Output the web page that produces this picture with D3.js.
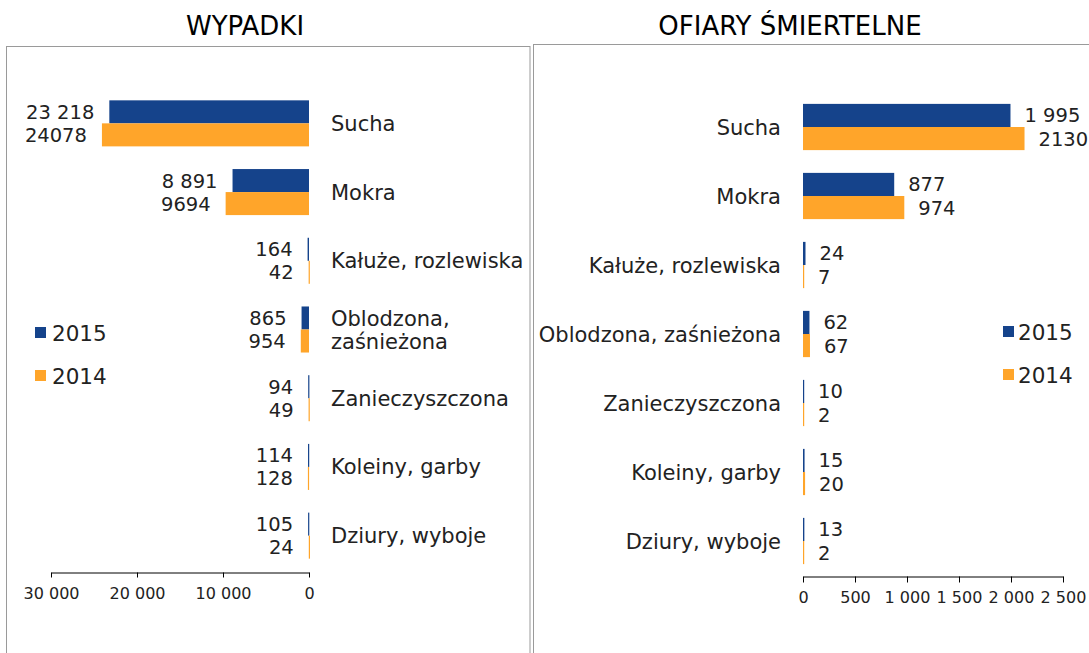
<!DOCTYPE html>
<html>
<head>
<meta charset="utf-8">
<script src="https://cdn.jsdelivr.net/npm/d3@7"></script>
<style>
  html, body { margin: 0; padding: 0; background: #fff; }
  svg { display: block; font-family: "DejaVu Sans", Verdana, sans-serif; }
</style>
</head>
<body>
<svg id="chart" width="1089" height="653"></svg>
<script>
// ---- DATA ----
const categoriesLeft = ["Sucha", "Mokra", "Kałuże, rozlewiska", "Oblodzona, zaśnieżona", "Zanieczyszczona", "Koleiny, garby", "Dziury, wyboje"];
const categoriesRight = ["Sucha", "Mokra", "Kałuże, rozlewiska", "Oblodzona, zaśnieżona", "Zanieczyszczona", "Koleiny, garby", "Dziury, wyboje"];
const seriesNames = ["2015", "2014"];
const accidents2015 = [23218, 8891, 164, 865, 94, 114, 105];
const accidents2014 = [24078, 9694, 42, 954, 49, 128, 24];
const deaths2015 = [1995, 877, 24, 62, 10, 15, 13];
const deaths2014 = [2130, 974, 7, 67, 2, 20, 2];
const leftTicks = [0, 10000, 20000, 30000];
const rightTicks = [0, 500, 1000, 1500, 2000, 2500];
const titles = ["WYPADKI", "OFIARY ŚMIERTELNE"];
const colors = ["#15438B", "#FFA52A"];

// formatting: 2015 labels with space thousands separator, 2014 without
const fmtSpace = v => d3.format(",")(v).replace(/,/g, "\u00A0");
const fmtPlain = v => String(v);
const labelFmt = [fmtSpace, fmtPlain];

const svg = d3.select("#chart");

// panel frames
svg.append("rect").attr("x", 6.5).attr("y", 46.5).attr("width", 523.5).attr("height", 700)
  .attr("fill", "none").attr("stroke", "#9a9a9a").attr("stroke-width", 1);
svg.append("rect").attr("x", 533.5).attr("y", 44.5).attr("width", 700).attr("height", 700)
  .attr("fill", "none").attr("stroke", "#9a9a9a").attr("stroke-width", 1);

// titles
svg.append("text").attr("x", 245).attr("y", 35).attr("text-anchor", "middle")
  .attr("font-size", 26).attr("fill", "#000").text(titles[0]);
svg.append("text").attr("x", 790).attr("y", 35).attr("text-anchor", "middle")
  .attr("font-size", 26).attr("fill", "#000").text(titles[1]);

function seriesRows(cats, a, b) {
  return cats.map((c, i) => ({ cat: c, vals: [a[i], b[i]] }));
}

// ---------- LEFT CHART ----------
const xL = d3.scaleLinear().domain([0, 30000]).range([309, 51]);
const yL = d3.scaleBand().domain(categoriesLeft).range([89, 570]).paddingInner(0.33).paddingOuter(0.165);
const ySubL = d3.scaleBand().domain(seriesNames).range([0, yL.bandwidth()]);
const rowsL = seriesRows(categoriesLeft, accidents2015, accidents2014);

const gL = svg.append("g");
rowsL.forEach(r => {
  const g = gL.append("g").attr("transform", `translate(0,${yL(r.cat)})`);
  seriesNames.forEach((s, k) => {
    const v = r.vals[k];
    g.append("rect")
      .attr("x", xL(v)).attr("y", ySubL(s))
      .attr("width", Math.max(xL(0) - xL(v), 1.2)).attr("height", ySubL.bandwidth())
      .attr("fill", colors[k]);
    g.append("text")
      .attr("x", xL(v) - 15).attr("y", ySubL(s) + ySubL.bandwidth() / 2)
      .attr("dy", "0.36em").attr("text-anchor", "end")
      .attr("font-size", 19.5).attr("fill", "#222").text(labelFmt[k](v));
  });
  // category label
  const cy = yL(r.cat) + yL.bandwidth() / 2;
  const lines = r.cat === "Oblodzona, zaśnieżona" ? ["Oblodzona,", "zaśnieżona"] : [r.cat];
  lines.forEach((ln, j) => {
    gL.append("text").attr("x", 331)
      .attr("y", cy + (j - (lines.length - 1) / 2) * 23)
      .attr("dy", "0.36em").attr("font-size", 21).attr("fill", "#222").text(ln);
  });
});

const axL = svg.append("g").attr("transform", "translate(0,572.5)")
  .call(d3.axisBottom(xL).tickValues(leftTicks).tickSize(5).tickPadding(10).tickSizeOuter(0)
    .tickFormat(v => fmtSpace(v)));
axL.select(".domain").attr("stroke", "#000");
axL.selectAll(".tick line").attr("stroke", "#000");
axL.selectAll("text").attr("font-size", 16).attr("font-family", "DejaVu Sans, Verdana, sans-serif").attr("fill", "#222");

// left legend
seriesNames.forEach((s, k) => {
  const y = 333 + k * 43;
  svg.append("rect").attr("x", 35).attr("y", y - 6).attr("width", 11).attr("height", 11).attr("fill", colors[k]);
  svg.append("text").attr("x", 52).attr("y", y).attr("dy", "0.36em").attr("font-size", 21.5).attr("fill", "#222").text(s);
});

// ---------- RIGHT CHART ----------
const xR = d3.scaleLinear().domain([0, 2500]).range([803, 1063]);
const yR = d3.scaleBand().domain(categoriesRight).range([92.5, 575.5]).paddingInner(0.33).paddingOuter(0.165);
const ySubR = d3.scaleBand().domain(seriesNames).range([0, yR.bandwidth()]);
const rowsR = seriesRows(categoriesRight, deaths2015, deaths2014);

const gR = svg.append("g");
rowsR.forEach(r => {
  const g = gR.append("g").attr("transform", `translate(0,${yR(r.cat)})`);
  seriesNames.forEach((s, k) => {
    const v = r.vals[k];
    g.append("rect")
      .attr("x", xR(0)).attr("y", ySubR(s))
      .attr("width", Math.max(xR(v) - xR(0), 1.2)).attr("height", ySubR.bandwidth())
      .attr("fill", colors[k]);
    g.append("text")
      .attr("x", Math.max(xR(v), xR(0) + 1) + 14).attr("y", ySubR(s) + ySubR.bandwidth() / 2)
      .attr("dy", "0.36em").attr("text-anchor", "start")
      .attr("font-size", 19.5).attr("fill", "#222").text(labelFmt[k](v));
  });
  gR.append("text").attr("x", 781).attr("y", yR(r.cat) + yR.bandwidth() / 2)
    .attr("dy", "0.36em").attr("text-anchor", "end")
    .attr("font-size", 21).attr("fill", "#222").text(r.cat);
});

const axR = svg.append("g").attr("transform", "translate(0,576.5)")
  .call(d3.axisBottom(xR).tickValues(rightTicks).tickSize(6).tickPadding(9.5).tickSizeOuter(0)
    .tickFormat(v => fmtSpace(v)));
axR.select(".domain").attr("stroke", "#000");
axR.selectAll(".tick line").attr("stroke", "#000");
axR.selectAll("text").attr("font-size", 16).attr("font-family", "DejaVu Sans, Verdana, sans-serif").attr("fill", "#222");

// right legend
seriesNames.forEach((s, k) => {
  const y = 332 + k * 43;
  svg.append("rect").attr("x", 1003).attr("y", y - 6).attr("width", 11).attr("height", 11).attr("fill", colors[k]);
  svg.append("text").attr("x", 1018).attr("y", y).attr("dy", "0.36em").attr("font-size", 21.5).attr("fill", "#222").text(s);
});
</script>
</body>
</html>
